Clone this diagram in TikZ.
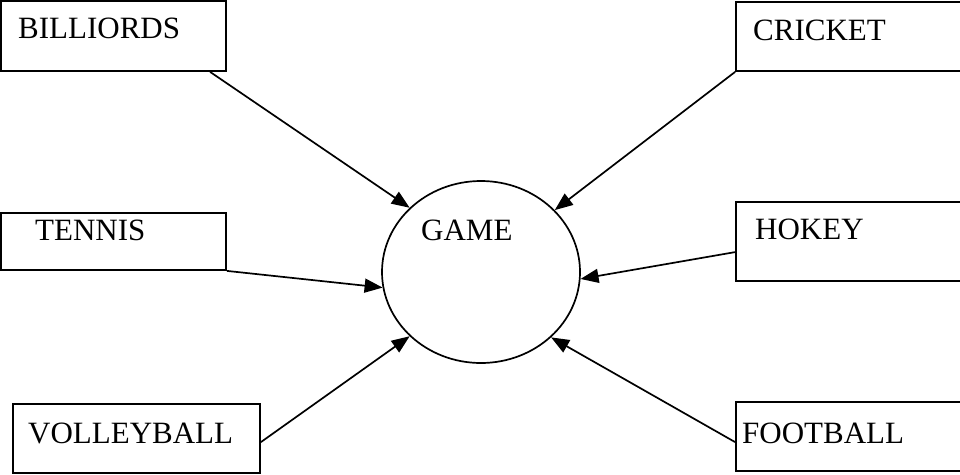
\documentclass[tikz,border=0pt]{standalone}
\usepackage{fontspec}
\setmainfont{Liberation Serif}
\usetikzlibrary{arrows.meta,shapes.geometric,calc}
\begin{document}
\begin{tikzpicture}[x=1pt,y=-1pt,
  box/.style={draw, line width=1.8pt, rectangle, inner sep=0pt},
  lbl/.style={inner sep=0pt, anchor=base west, font=\fontsize{31}{37}\selectfont},
  conn/.style={line width=1.7pt, -{Triangle[length=18pt,width=14pt]}}]
\clip (0,0) rectangle (960,474);
\useasboundingbox (0,0) rectangle (960,474);
% boxes
\node[box, minimum width=225pt, minimum height=70pt] (bil) at (113.5,36) {};
\node[box, minimum width=229pt, minimum height=69pt] (cri) at (850.5,36.5) {};
\node[box, minimum width=225pt, minimum height=57pt] (ten) at (113.5,241.5) {};
\node[box, minimum width=229pt, minimum height=79pt] (hok) at (850.5,241.5) {};
\node[box, minimum width=247pt, minimum height=69pt] (vol) at (136.5,438.5) {};
\node[box, minimum width=229pt, minimum height=69pt] (foo) at (850.5,436.5) {};
% centre
\node[draw, ellipse, line width=1.7pt, inner sep=0pt, minimum width=198pt, minimum height=182pt] (game) at (481,272) {};
% texts
\node[lbl] (bilT) at (18,38) {BILLIORDS};
\node[lbl] (criT) at (753,40) {CRICKET};
\node[lbl] (tenT) at (35,240) {TENNIS};
\node[lbl] (hokT) at (755,239) {HOKEY};
\node[lbl] (volT) at (28,443) {VOLLEYBALL};
\node[lbl] (fooT) at (742,443) {FOOTBALL};
\node[lbl] (gameT) at (421,240) {GAME};
% connectors
\draw[conn] ($(bil.south west)+(210,0)$) -- (game.138.9);
\draw[conn] (cri.south west) -- (game.40.4);
\draw[conn] (ten.south east) -- (game.189.2);
\draw[conn] ($(hok.north west)+(0,51)$) -- (game.-4);
\draw[conn] ($(vol.north east)+(0,39)$) -- (game.222.4);
\draw[conn] ($(foo.north west)+(0,41)$) -- (game.317.6);
\end{tikzpicture}
\end{document}
